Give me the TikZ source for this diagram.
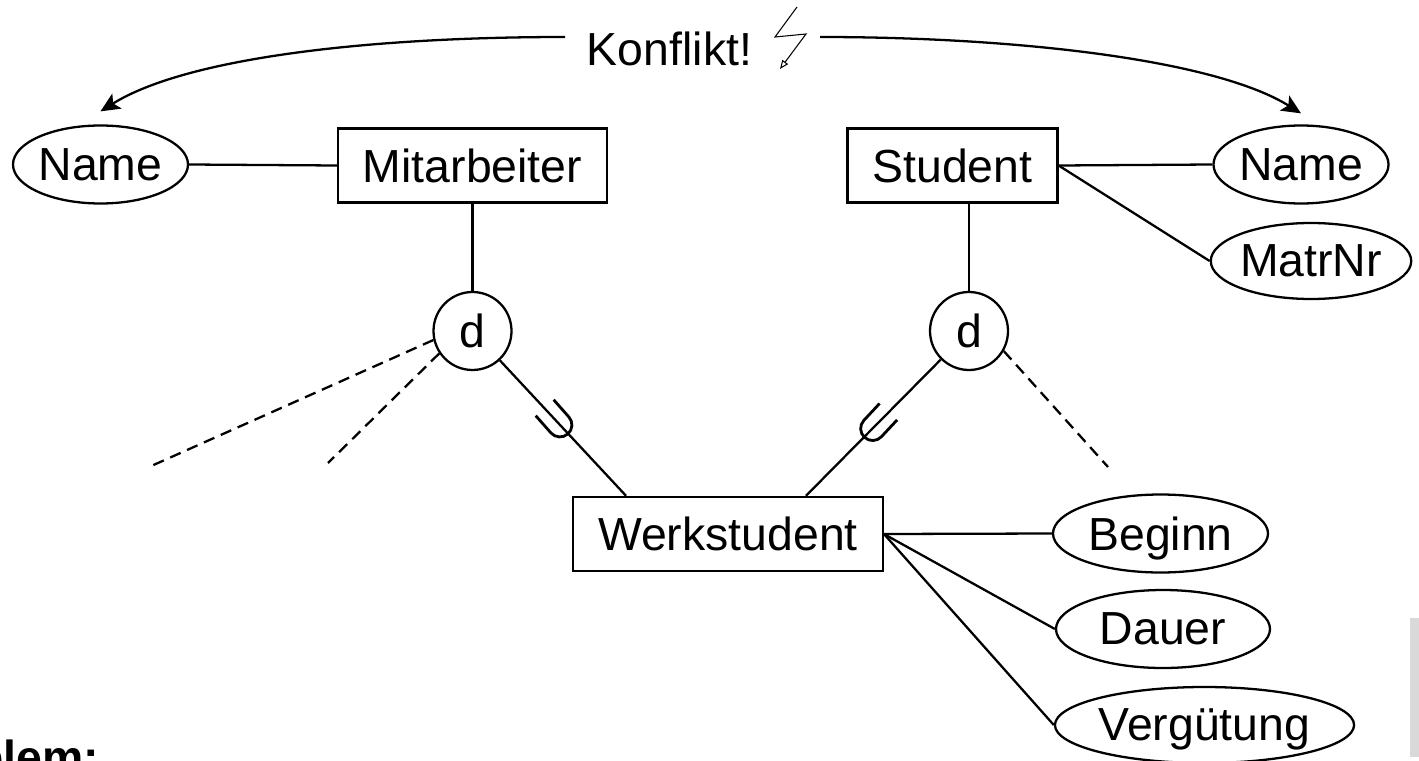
\documentclass[tikz,border=0pt]{standalone}
\usepackage{fontspec}
\setmainfont{Liberation Sans}
\usetikzlibrary{arrows.meta,shapes.geometric}

\begin{document}
\begin{tikzpicture}[
    line width=1.3pt,
    every node/.style={font=\fontsize{26.4}{31}\selectfont, text depth=0pt},
    entity/.style={draw, rectangle, minimum height=1.48cm, inner xsep=0.5cm},
    attr/.style={draw, ellipse, minimum height=1.56cm, inner sep=0pt},
    isa/.style={draw, circle, minimum size=1.56cm, inner sep=0pt},
    ucup/.style={line width=1.6pt},
    partial/.style={dash pattern=on 6.5pt off 4pt},
    conflict/.style={-{Stealth[length=11pt, width=10pt, inset=2.5pt]}},
]
    \useasboundingbox (0,0) rectangle (28.38,15.2);

    % Entities
    \node[entity] (mit) at (9.45,11.89) {Mitarbeiter};
    \node[entity] (stud) at (19.05,11.89) {Student};
    \node[entity] (werk) at (14.56,4.52) {Werkstudent};

    % Attributes
    \node[attr, minimum width=3.5cm] (namel) at (2.01,11.91) {Name};
    \node[attr, minimum width=3.48cm] (namer) at (26.02,11.91) {Name};
    \node[attr, minimum width=3.78cm, minimum height=1.52cm] (matr) at (26.22,9.98) {MatrNr};
    \node[attr, minimum width=4.3cm] (beginn) at (23.21,4.53) {Beginn};
    \node[attr, minimum width=4.28cm] (dauer) at (23.26,2.62) {Dauer};
    \node[attr, minimum width=5.7cm, minimum height=1.52cm] (verg) at (24.09,0.70) {Vergütung};

    % Specialisation
    \node[isa] (dl) at (9.45,8.58) {d};
    \node[isa] (dr) at (19.38,8.58) {d};

    \draw (namel.east) -- (mit.west);
    \draw (mit) -- (dl);
    \draw (dr |- stud.south) -- (dr);
    \draw (stud.east) -- (namer.west);
    \draw (stud.east) -- (matr.west);
    \draw (werk.east) -- (beginn.west);
    \draw (werk.east) -- (dauer.west);
    \draw (werk.east) -- (verg.west);

    \draw (dl) -- coordinate[pos=0.46] (ul) ([xshift=1.08cm]werk.north west);
    \draw (dr) -- coordinate[pos=0.49] (ur) ([xshift=-1.56cm]werk.north east);
    % subset marks
    \draw[ucup, shift={(ul)}, rotate=41.5] (-0.24,0.4) -- (-0.24,-0.06) arc[start angle=180, end angle=360, radius=0.24] -- (0.24,0.4);
    \draw[ucup, shift={(ur)}, rotate=-43] (-0.24,0.4) -- (-0.24,-0.06) arc[start angle=180, end angle=360, radius=0.24] -- (0.24,0.4);

    % Other subclasses
    \coordinate (l1) at (2.98,5.86);
    \coordinate (l2) at (6.56,5.94);
    \coordinate (r1) at (22.16,5.86);
    \draw[partial] (dl.193) -- (l1);
    \draw[partial] (dl.214) -- (l2);
    \draw[partial] (dr.-30) -- (r1);

    % Conflict
    \node[anchor=base, inner sep=0pt] (konf) at (13.39,13.88) {Konflikt!};
    \coordinate (kl) at (11.30,14.46);
    \coordinate (kr) at (16.40,14.46);
    \draw[conflict] (kl) to[out=180, in=32, out distance=4cm, in distance=2cm] ([yshift=0.26cm]namel.north);
    \draw[conflict] (kr) to[out=0, in=148, out distance=4cm, in distance=2cm] ([yshift=0.22cm]namer.north);
    \draw[line width=0.6pt, -{Triangle[open, length=5pt, width=4pt]}] (15.94,15.06) -- (15.50,14.46) -- (16.12,14.52) -- (15.60,13.82);

    \node[anchor=base east, inner sep=0pt, font=\fontsize{26.4}{31}\selectfont\bfseries] (probl) at (2.0,-0.26) {blem:};
    \fill[black!15] (28.20,0.06) rectangle (28.38,2.84);
\end{tikzpicture}
\end{document}
